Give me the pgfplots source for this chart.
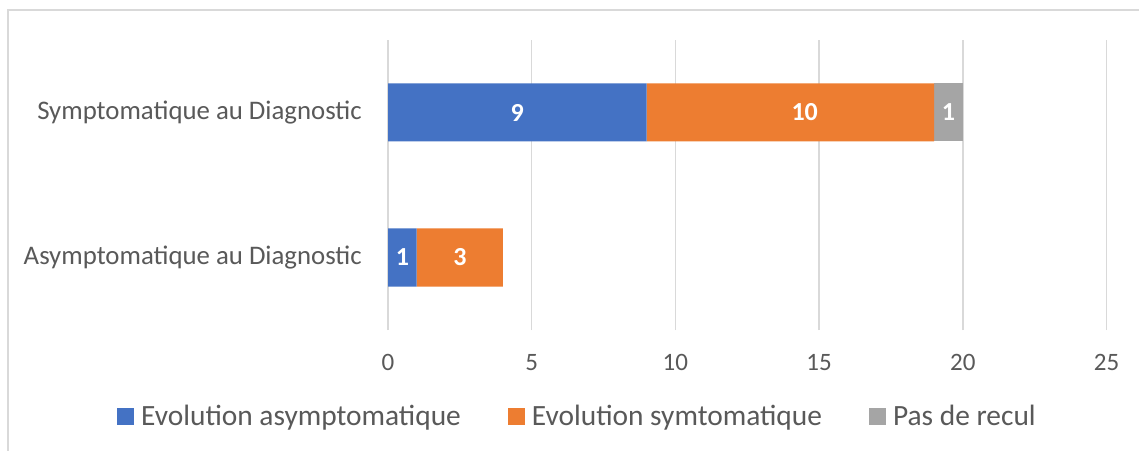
\documentclass[border=0pt]{standalone}
\usepackage{fontspec}
\setmainfont{Carlito}
\usepackage{pgfplots}
\pgfplotsset{compat=1.18}
\definecolor{cblue}{HTML}{4472C4}
\definecolor{corange}{HTML}{ED7D31}
\definecolor{cgray}{HTML}{A5A5A5}
\definecolor{cgrid}{HTML}{D9D9D9}
\definecolor{txt}{HTML}{595959}
\definecolor{cframe}{HTML}{D9D9D9}

\pgfplotsset{
  base/.style={
    at={(388pt,120pt)}, anchor=south west,
    scale only axis, width=718.5pt, height=290pt,
    xmin=0, xmax=25, ymin=-0.5, ymax=1.5,
  },
}

\begin{document}
\begin{tikzpicture}[x=1pt,y=1pt]
\useasboundingbox (0,0) rectangle (1139,450);
\fill[white] (0,0) rectangle (1139,450);
\draw[cframe, line width=1.2pt] (8,-5) -- (8,440) -- (1145,440);

\begin{axis}[base,
  xbar stacked, bar width=58pt,
  axis line style={draw=none},
  major tick length=0pt,
  xtick={0,5,10,15,20,25},
  xmajorgrids, ymajorgrids=false,
  major grid style={draw=cgrid, line width=1.4pt},
  ytick={0,1},
  yticklabels={Asymptomatique au Diagnostic, Symptomatique au Diagnostic},
  /pgf/number format/assume math mode=true,
  xticklabel style={font=\fontsize{25}{30}\selectfont, text=txt, inner sep=0pt, yshift=-24pt},
  yticklabel style={font=\fontsize{26.8}{32}\selectfont, text=txt, inner sep=0pt, xshift=-26pt},
  legend columns=3,
  legend style={draw=none, fill=none, at={(-0.3772,-0.2966)}, anchor=west,
    font=\fontsize{29.4}{34}\selectfont, text=txt, inner sep=0pt,
    nodes={inner sep=0pt},
    /tikz/every odd column/.append style={column sep=7pt},
    /tikz/every even column/.append style={column sep=47pt}},
  legend image code/.code={\fill[#1] (0pt,-8.5pt) rectangle (17pt,8.5pt);},
]
\addplot[fill=cblue, draw=none] coordinates {(1,0) (9,1)};
\addplot[fill=corange, draw=none] coordinates {(3,0) (10,1)};
\addplot[fill=cgray, draw=none] coordinates {(0,0) (1,1)};
\legend{Evolution asymptomatique, Evolution symtomatique, Pas de recul}
\end{axis}

\begin{axis}[base, hide axis]
\addplot[only marks, mark=*, mark size=0pt, mark options={draw=none, fill=none},
  point meta=explicit symbolic, nodes near coords,
  every node near coord/.style={anchor=center, text=white,
    font=\bfseries\fontsize{26}{30}\selectfont}]
  coordinates {(4.5,1) [9] (14.5,1) [10] (19.5,1) [1] (0.5,0) [1] (2.5,0) [3]};
\end{axis}
\end{tikzpicture}
\end{document}
